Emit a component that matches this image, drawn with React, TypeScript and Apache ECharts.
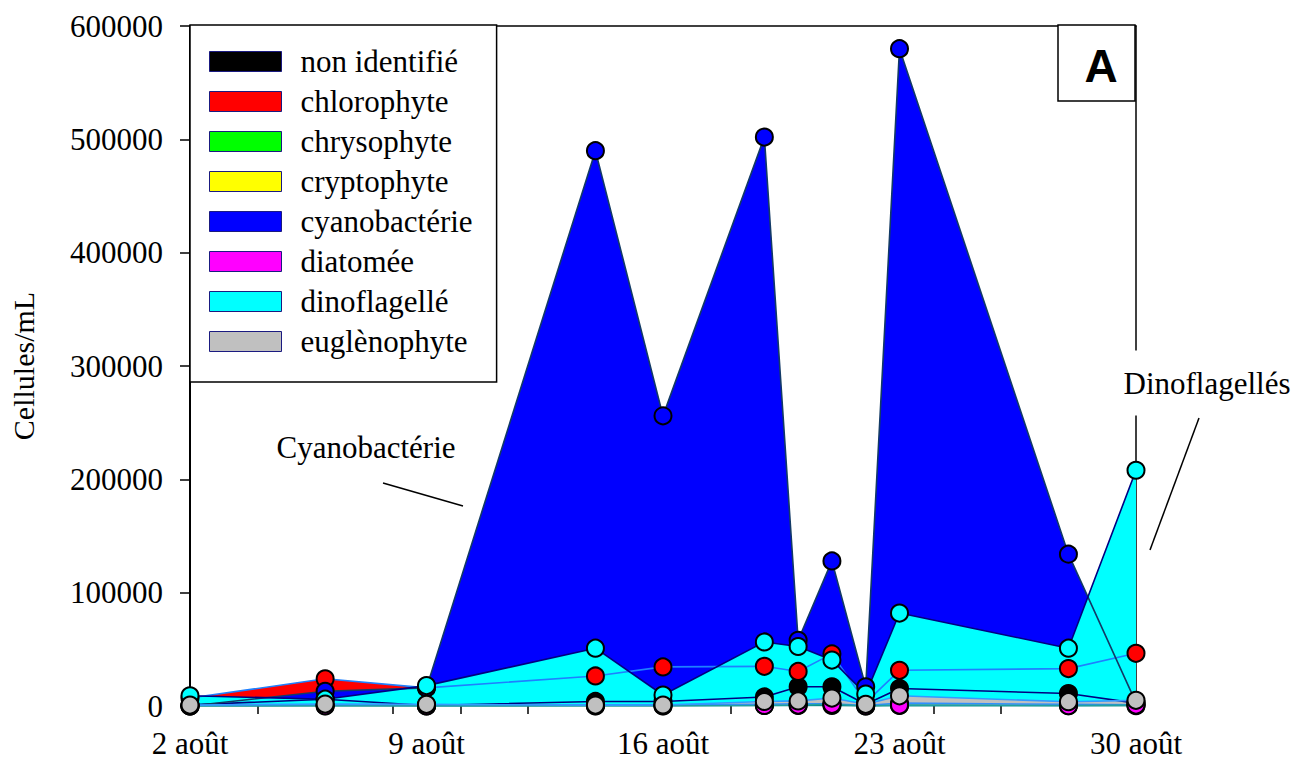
import React, { useEffect, useRef } from "react";
import * as echarts from "echarts";

// Sampling days (August)
const days = [2, 6, 9, 14, 16, 19, 20, 21, 22, 23, 28, 30];

// Cell counts (cellules/mL) per group
const nonIdentifie = [1000, 6000, 500, 4000, 4000, 8000, 17000, 17000, 1500, 15500, 11000, 2500];
const chlorophyte = [7000, 24000, 16000, 26500, 34500, 35000, 30500, 46000, 3000, 31500, 33000, 46500];
const chrysophyte = [0, 200, 0, 300, 200, 500, 500, 500, 0, 500, 300, 200];
const cryptophyte = [500, 1000, 500, 1000, 1000, 1500, 2000, 2000, 500, 2500, 1500, 1000];
const cyanobacterie = [0, 13000, 16000, 490000, 256000, 502000, 58000, 128000, 17000, 580000, 134000, 3000];
const diatomee = [0, 0, 0, 0, 0, 500, 800, 1500, 0, 800, 300, 800];
const dinoflagelle = [9000, 6000, 18000, 51000, 9700, 56500, 52500, 40500, 10500, 82000, 51000, 208000];
const euglenophyte = [800, 1700, 1500, 800, 900, 4000, 4500, 7000, 1500, 9000, 3800, 5000];

const seriesNames = [
  "non identifié",
  "chlorophyte",
  "chrysophyte",
  "cryptophyte",
  "cyanobactérie",
  "diatomée",
  "dinoflagellé",
  "euglènophyte",
];
const seriesValues = [
  nonIdentifie,
  chlorophyte,
  chrysophyte,
  cryptophyte,
  cyanobacterie,
  diatomee,
  dinoflagelle,
  euglenophyte,
];
const fillColors = ["#000000", "#FF0000", "#00FF00", "#FFFF00", "#0000FF", "#FF00FF", "#00FFFF", "#C0C0C0"];
const lineColors = ["#000080", "#1E80FF", "#008080", "#2F8FFF", "#123A66", "#20A0A0", "#000080", "#3399FF"];

const yTickValues = [0, 100000, 200000, 300000, 400000, 500000, 600000];
const xLabelDays = [2, 9, 16, 23, 30];
const monthLabel = "août";

const SERIF = "'Liberation Serif', 'Times New Roman', serif";

export default function App() {
  const ref = useRef<HTMLDivElement>(null);

  useEffect(() => {
    if (!ref.current) return;
    const chart = echarts.init(ref.current, undefined, { renderer: "svg" });

    const areaSeries = seriesNames.map((name, i) => ({
      type: "line",
      name,
      data: days.map((d, j) => [d, seriesValues[i][j]]),
      showSymbol: false,
      symbol: "none",
      lineStyle: { width: 0, opacity: 0 },
      areaStyle: { color: fillColors[i], opacity: 1 },
      itemStyle: { color: fillColors[i] },
      z: 2,
      silent: true,
    }));
    const lineSeries = seriesNames.map((name, i) => ({
      type: "line",
      name,
      data: days.map((d, j) => [d, seriesValues[i][j]]),
      showSymbol: false,
      symbol: "none",
      lineStyle: { color: lineColors[i], width: 1.6 },
      itemStyle: { color: fillColors[i] },
      z: 3,
      silent: true,
    }));
    const markerSeries = seriesNames.map((name, i) => ({
      type: "scatter",
      name,
      data: days.map((d, j) => [d, seriesValues[i][j]]),
      symbol: "circle",
      symbolSize: 17,
      itemStyle: { color: fillColors[i], borderColor: "#000", borderWidth: 2, opacity: 1 },
      z: 4,
      silent: true,
    }));

    chart.setOption({
      animation: false,
      backgroundColor: "#ffffff",
      grid: { left: 190, right: 162, top: 26, bottom: 61, containLabel: false },
      legend: {
        orient: "vertical",
        left: 190,
        top: 25,
        data: seriesNames.map((n, i) => ({
          name: n,
          icon: "rect",
          itemStyle: { color: fillColors[i], borderColor: "#1A1A80", borderWidth: 1 },
        })),
        itemWidth: 72,
        itemHeight: 20,
        itemGap: 9,
        padding: [21, 24, 25, 19],
        backgroundColor: "#ffffff",
        borderColor: "#000000",
        borderWidth: 1.5,
        selectedMode: false,
        textStyle: { fontFamily: SERIF, fontSize: 31, color: "#000", padding: [0, 0, 0, 14] },
        z: 10,
      },
      xAxis: [
        {
          type: "value",
          min: 2,
          max: 30,
          interval: 7,
          position: "bottom",
          axisLine: { show: false },
          axisTick: { show: false },
          splitLine: { show: false },
          axisLabel: {
            fontFamily: SERIF,
            fontSize: 31,
            color: "#000",
            margin: 22,
            formatter: (v: number) => (xLabelDays.includes(v) ? `${v} ${monthLabel}` : ""),
          },
        },
        {
          type: "value",
          min: 2,
          max: 30,
          interval: 2,
          position: "bottom",
          axisLine: { show: false },
          axisTick: { show: true, length: 8, lineStyle: { color: "#000", width: 1.5 } },
          axisLabel: { show: false },
          splitLine: { show: false },
        },
        {
          type: "value",
          min: 2,
          max: 30,
          position: "top",
          axisLine: { show: true, lineStyle: { color: "#000", width: 1.5 } },
          axisTick: { show: false },
          axisLabel: { show: false },
          splitLine: { show: false },
        },
      ],
      yAxis: [
        {
          type: "value",
          min: yTickValues[0],
          max: yTickValues[yTickValues.length - 1],
          interval: 100000,
          position: "left",
          axisLine: { show: true, lineStyle: { color: "#000", width: 2 } },
          axisTick: { show: true, inside: false, length: 10, lineStyle: { color: "#000", width: 1.5 } },
          axisLabel: {
            fontFamily: SERIF,
            fontSize: 31,
            color: "#000",
            margin: 27,
            formatter: (v: number) => String(v),
          },
          splitLine: { show: false },
          name: "Cellules/mL",
          nameLocation: "middle",
          nameGap: 152,
          nameTextStyle: { fontFamily: SERIF, fontSize: 30, color: "#000" },
        },
        {
          type: "value",
          min: yTickValues[0],
          max: yTickValues[yTickValues.length - 1],
          position: "right",
          axisLine: { show: true, lineStyle: { color: "#000", width: 1.5 } },
          axisTick: { show: false },
          axisLabel: { show: false },
          splitLine: { show: false },
        },
      ],
      series: [...areaSeries, ...lineSeries, ...markerSeries],
      graphic: [
        {
          type: "line",
          z: 100,
          shape: { x1: 383, y1: 483, x2: 463, y2: 506 },
          style: { stroke: "#000", lineWidth: 1.5 },
        },
        {
          type: "text",
          z: 100,
          x: 366,
          y: 447,
          style: {
            text: "Cyanobactérie",
            font: `31px ${SERIF}`,
            fill: "#000",
            align: "center",
            verticalAlign: "middle",
          },
        },
        {
          type: "line",
          z: 100,
          shape: { x1: 1199, y1: 418, x2: 1150, y2: 550 },
          style: { stroke: "#000", lineWidth: 1.5 },
        },
        {
          type: "text",
          z: 100,
          x: 1207,
          y: 383,
          style: {
            text: "Dinoflagellés",
            font: `31px ${SERIF}`,
            fill: "#000",
            align: "center",
            verticalAlign: "middle",
            backgroundColor: "#fff",
            padding: [17, 8],
          },
        },
        {
          type: "rect",
          z: 100,
          shape: { x: 1058, y: 25, width: 77, height: 76 },
          style: { fill: "#fff", stroke: "#000", lineWidth: 1.5 },
        },
        {
          type: "text",
          z: 101,
          x: 1101,
          y: 66,
          style: {
            text: "A",
            font: `bold 46px 'Liberation Sans', Arial, sans-serif`,
            fill: "#000",
            align: "center",
            verticalAlign: "middle",
          },
        },
      ],
    });

    return () => chart.dispose();
  }, []);

  return (
    <div
      ref={ref}
      style={{ position: "fixed", left: 0, top: 0, width: 1298, height: 767, background: "#fff" }}
    />
  );
}
